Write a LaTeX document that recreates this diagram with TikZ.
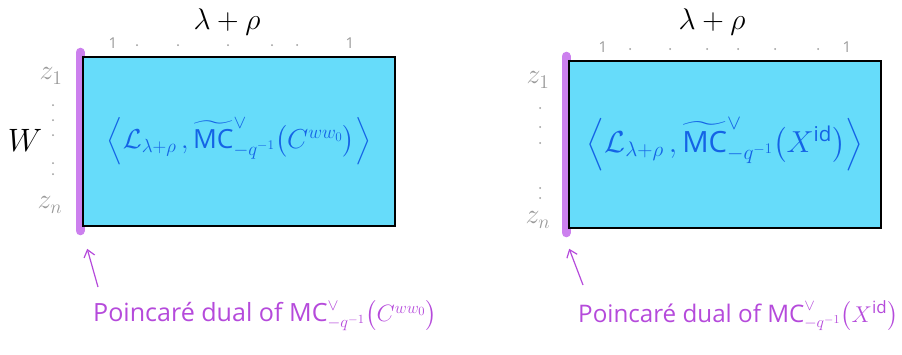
\documentclass[tikz,border=0pt]{standalone}
\usepackage{tikz}
\usepackage{graphicx}
\usetikzlibrary{arrows.meta, positioning, backgrounds}
\usepackage{amsmath}
\usepackage{amssymb}
\usepackage{fontspec}
\setmainfont{Open Sans}
\definecolor{boxfill}{HTML}{66DCFA}
\definecolor{inkblue}{HTML}{1463E6}
\definecolor{stripviolet}{HTML}{CC80EE}
\definecolor{notepurple}{HTML}{B54ADB}
\definecolor{tickgray}{HTML}{9A9A9A}
\newcommand{\grow}[2]{\scalebox{#1}{#2}}
\tikzset{
  cbox/.style={rectangle, draw=black, fill=boxfill, line width=1.6pt,
               minimum width=312pt, minimum height=#1, inner sep=0pt,
               text=inkblue, font=\fontsize{24}{28}\selectfont},
  cbox/.default=168pt,
  wstrip/.style={line width=9pt, draw=stripviolet, line cap=round},
  tick/.style={font=\fontsize{15}{17}\selectfont, text=tickgray, inner sep=0pt},
  zlbl/.style={font=\fontsize{21}{24}\selectfont, text=tickgray, inner sep=0pt},
  vdot/.style={circle, fill=tickgray, inner sep=0pt, minimum size=2pt},
  toplbl/.style={font=\fontsize{24}{28}\selectfont, inner sep=0pt},
  note/.style={font=\fontsize{22}{26}\selectfont, text=notepurple, inner sep=0pt, anchor=west},
  arr/.style={-{Straight Barb[length=7pt, width=11pt]}, line width=1.2pt, draw=#1},
  arr/.default=notepurple,
}

\begin{document}
\begin{tikzpicture}[x=1pt, y=-1pt]
  \useasboundingbox (0,0) rectangle (902,354);

  % Boxes
  \node[cbox=169pt] (lbox) at (239,141.5)
    {\grow{1.1}{$\left\langle \mathcal{L}_{\lambda+\rho}\,, \widetilde{\mathrm{MC}}^{\vee}_{-q^{-1}}\bigl(C^{ww_0}\bigr)\right\rangle$}};
  \node[cbox=167pt] (rbox) at (725,144.5)
    {\grow{1.22}{$\left\langle \mathcal{L}_{\lambda+\rho}\,, \widetilde{\mathrm{MC}}^{\vee}_{-q^{-1}}\bigl(X^{\mathrm{id}}\bigr)\right\rangle$}};

  % Purple strips under the left edges
  \begin{scope}[on background layer]
    \draw[wstrip] ([xshift=-2pt, yshift=4pt]lbox.north west) -- ([xshift=-2pt, yshift=-4pt]lbox.south west);
    \draw[wstrip] ([xshift=-2pt, yshift=4pt]rbox.north west) -- ([xshift=-2pt, yshift=-4pt]rbox.south west);
  \end{scope}

  % Top labels
  \node[toplbl] (lrho) at (227,22) {\grow{1.2}{$\lambda + \rho$}};
  \node[toplbl] (rrho) at (712,22) {\grow{1.2}{$\lambda + \rho$}};
  \node[tick] (lone1) at (113,43) {1};
  \node[tick] (lone2) at (350,43) {1};
  \node[tick] (rone1) at (603,47) {1};
  \node[tick] (rone2) at (847,47) {1};
  \foreach \x in {137,178,228,272,297} \node[vdot] at (\x,45) {};
  \foreach \x in {630,670,707,738,775,818} \node[vdot] at (\x,49) {};

  % Side labels
  \node[toplbl] (lw) at (25,140) {\grow{1.3}{$W$}};
  \node[zlbl] (lz1) at (51,76) {\grow{1.35}{$z_1$}};
  \node[zlbl] (lzn) at (50,205) {\grow{1.35}{$z_n$}};
  \node[zlbl] (rz1) at (538,80) {\grow{1.35}{$z_1$}};
  \node[zlbl] (rzn) at (538,220) {\grow{1.35}{$z_n$}};
  \foreach \y in {105,120,135,163,174} \node[vdot] at (53,\y) {};
  \foreach \y in {108,127,143,188,198} \node[vdot] at (540,\y) {};

  % Notes
  \node[note] (lnote) at (93,316) {\grow{1.14}{Poincaré dual of $\mathrm{MC}^{\vee}_{-q^{-1}}\bigl(C^{ww_0}\bigr)$}};
  \node[note] (rnote) at (578,316) {\grow{1.1}{Poincaré dual of $\mathrm{MC}^{\vee}_{-q^{-1}}\bigl(X^{\mathrm{id}}\bigr)$}};

  % Arrows
  \coordinate (ltail) at (98,287);
  \coordinate (rtail) at (583,285);
  \draw[arr] (ltail) -- ([xshift=5pt, yshift=-22pt]lbox.south west);
  \draw[arr] (rtail) -- ([xshift=1pt, yshift=-20pt]rbox.south west);
\end{tikzpicture}
\end{document}
